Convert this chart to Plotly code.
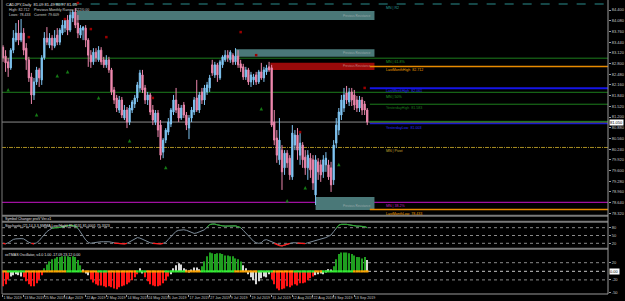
import plotly.graph_objects as go

# ---------------- data ----------------
opens = [83.29, 83.02, 82.85, 82.67, 83.20, 83.50, 83.71, 83.50, 83.71, 83.26,
         82.91, 82.40, 81.86, 82.25, 82.61, 82.31, 82.97, 83.56, 83.35, 83.56,
         83.32, 83.65, 83.44, 83.71, 83.86, 84.10, 83.80, 84.16, 84.34, 84.01,
         83.65, 83.80, 83.86, 83.50, 83.05, 82.85, 83.14, 82.91, 83.20, 82.91,
         82.76, 82.91, 82.61, 82.01, 81.77, 81.41, 81.71, 81.17, 81.41, 81.05,
         81.41, 81.59, 81.77, 82.07, 82.46, 82.07, 81.71, 81.86, 81.41, 81.05,
         81.32, 80.96, 80.15, 80.51, 80.75, 80.99, 81.35, 81.71, 81.47, 81.17,
         81.56, 81.26, 80.87, 81.17, 81.35, 81.77, 81.41, 81.95, 81.71, 81.95,
         82.07, 82.76, 82.46, 82.76, 82.37, 82.76, 82.91, 83.05, 82.91, 83.05,
         82.85, 83.02, 82.79, 82.70, 82.40, 82.61, 82.25, 82.31, 82.46, 82.25,
         82.55, 82.37, 82.55, 82.70, 82.67, 81.05, 80.57, 79.92, 80.21, 79.68,
         80.12, 79.97, 79.41, 80.36, 80.66, 80.06, 80.36, 80.00, 79.68, 79.97,
         79.92, 78.87, 79.86, 79.77, 79.56, 79.77, 79.77, 79.68, 79.32, 80.42,
         80.81, 81.26, 81.47, 81.92, 81.65, 81.95, 81.86, 81.71, 81.47, 81.71,
         81.59, 81.41]
highs = [83.35, 83.20, 82.97, 83.26, 83.80, 84.01, 84.10, 84.13, 83.86, 83.41,
         83.00, 82.52, 82.37, 82.70, 82.67, 83.05, 83.74, 83.89, 83.71, 83.65,
         83.80, 83.86, 83.86, 84.10, 84.16, 84.25, 84.34, 84.40, 84.46, 84.25,
         83.95, 83.92, 83.95, 83.56, 83.20, 83.26, 83.26, 83.32, 83.29, 83.00,
         83.05, 83.00, 82.67, 82.10, 81.86, 81.83, 81.80, 81.56, 81.50, 81.56,
         81.71, 81.86, 82.25, 82.61, 82.61, 82.16, 81.95, 81.92, 81.56, 81.41,
         81.41, 81.11, 80.57, 80.87, 81.17, 81.47, 81.86, 82.07, 81.59, 81.56,
         81.65, 81.35, 81.26, 81.50, 81.80, 82.31, 81.95, 82.07, 82.16, 82.25,
         82.46, 82.91, 82.85, 82.82, 82.91, 83.05, 83.20, 83.20, 83.20, 83.11,
         83.26, 83.20, 82.91, 82.79, 82.70, 82.67, 82.55, 82.49, 82.55, 82.61,
         82.82, 82.70, 82.76, 82.85, 82.76, 81.41, 80.81, 81.17, 80.36, 80.21,
         80.21, 80.06, 80.96, 80.81, 80.87, 80.75, 80.45, 80.21, 80.21, 80.12,
         80.06, 80.06, 79.97, 79.92, 80.06, 80.15, 79.92, 79.86, 80.51, 81.17,
         81.47, 81.86, 82.07, 82.13, 82.07, 82.07, 82.01, 81.83, 81.83, 81.80,
         81.68, 81.47]
lows = [82.85, 82.55, 82.40, 82.61, 83.11, 83.44, 83.35, 83.44, 83.05, 82.61,
        82.25, 81.59, 81.71, 82.16, 82.10, 82.16, 82.91, 83.35, 83.26, 83.20,
        83.26, 83.35, 83.35, 83.65, 83.74, 83.65, 83.74, 84.04, 83.86, 83.56,
        83.56, 83.50, 83.29, 82.70, 82.67, 82.76, 82.85, 82.85, 82.76, 82.67,
        82.67, 82.52, 81.86, 81.59, 81.35, 81.32, 81.17, 81.11, 80.87, 80.96,
        81.32, 81.47, 81.65, 81.95, 81.92, 81.59, 81.56, 81.26, 80.96, 80.96,
        80.60, 79.92, 79.97, 80.42, 80.66, 80.90, 81.26, 81.32, 81.05, 81.11,
        81.17, 80.81, 80.54, 81.05, 81.26, 81.35, 81.32, 81.59, 81.56, 81.86,
        81.95, 82.43, 82.37, 82.25, 82.31, 82.67, 82.85, 82.85, 82.82, 82.76,
        82.76, 82.67, 82.55, 82.31, 82.31, 82.16, 82.10, 82.16, 82.16, 82.19,
        82.31, 82.25, 82.46, 82.55, 80.90, 80.36, 79.83, 79.77, 79.02, 79.47,
        79.68, 79.32, 79.32, 80.21, 79.92, 79.77, 79.68, 79.47, 79.32, 79.38,
        79.02, 78.57, 79.32, 79.26, 79.38, 79.56, 79.32, 78.96, 79.17, 80.27,
        80.66, 81.11, 81.35, 81.59, 81.53, 81.53, 81.41, 81.35, 81.35, 81.26,
        81.26, 80.96]
closes = [82.97, 82.82, 82.67, 83.20, 83.56, 83.71, 83.50, 83.71, 83.20, 82.91,
          82.37, 81.86, 82.25, 82.61, 82.37, 82.97, 83.56, 83.44, 83.56, 83.35,
          83.56, 83.44, 83.80, 83.95, 84.10, 83.80, 84.25, 84.34, 83.95, 83.71,
          83.86, 83.89, 83.50, 83.05, 82.85, 83.14, 82.97, 83.20, 82.85, 82.76,
          82.91, 82.61, 81.95, 81.71, 81.47, 81.71, 81.26, 81.41, 81.05, 81.47,
          81.65, 81.77, 82.16, 82.52, 82.01, 81.71, 81.86, 81.35, 81.11, 81.32,
          80.81, 80.06, 80.51, 80.81, 81.05, 81.41, 81.71, 81.41, 81.17, 81.47,
          81.26, 80.96, 81.17, 81.41, 81.71, 81.41, 81.86, 81.71, 82.07, 82.16,
          82.37, 82.52, 82.76, 82.46, 82.85, 83.00, 83.05, 82.97, 83.14, 82.85,
          83.02, 82.76, 82.67, 82.40, 82.61, 82.25, 82.46, 82.40, 82.25, 82.55,
          82.37, 82.61, 82.67, 82.61, 80.96, 80.51, 80.06, 80.51, 79.56, 80.12,
          79.83, 79.47, 80.72, 80.66, 80.21, 80.42, 79.92, 79.68, 80.06, 79.62,
          79.23, 79.92, 79.56, 79.47, 79.92, 79.97, 79.41, 79.17, 80.36, 80.96,
          81.35, 81.71, 81.86, 81.71, 81.95, 81.71, 81.56, 81.47, 81.71, 81.41,
          81.41, 81.05]

stoch_main = [20, 18, 22, 28, 35, 37, 38, 38, 37, 30,
              24, 20, 18, 22, 30, 42, 55, 65, 72, 78,
              80, 80, 81, 84, 86, 88, 89, 88, 86, 78,
              62, 45, 33, 24, 20, 22, 24, 25, 26, 26,
              27, 26, 24, 21, 20, 19, 18, 18, 20, 26,
              32, 38, 42, 40, 35, 30, 26, 22, 20, 19,
              18, 18, 20, 24, 35, 46, 58, 66, 70, 72,
              72, 70, 67, 62, 58, 60, 64, 68, 72, 82,
              92, 94, 94, 91, 88, 87, 86, 86, 87, 88,
              87, 84, 80, 70, 60, 48, 36, 28, 22, 20,
              22, 32, 34, 30, 25, 20, 15, 11, 10, 13,
              17, 20, 22, 22, 21, 20, 19, 19, 22, 25,
              28, 30, 32, 35, 38, 42, 47, 52, 65, 78,
              90, 93, 94, 93, 91, 89, 87, 86, 86, 86,
              84, 80]

osc_hist = [-35, -30, -19, -12, -9, -7, -9, -12, -14, -23,
            -30, -35, -35, -28, -19, -9, 7, 16, 23, 28,
            30, 33, 33, 35, 35, 35, 33, 35, 33, 26,
            14, 2, -5, -9, -19, -26, -30, -33, -33, -35,
            -37, -35, -37, -40, -42, -37, -35, -33, -30, -26,
            -21, -14, -7, 7, -5, -14, -23, -30, -33, -35,
            -35, -33, -28, -21, -12, -7, 7, 14, 19, 16,
            7, 2, -2, 2, 9, 9, 5, 12, 23, 35,
            44, 42, 40, 42, 42, 40, 37, 37, 35, 35,
            30, 28, 23, 14, 7, -7, -14, -21, -30, -23,
            -16, -12, -14, -7, -19, -30, -40, -44, -42, -40,
            -35, -37, -33, -30, -33, -28, -28, -26, -21, -16,
            -12, -9, -7, -5, -7, -2, 5, 2, 12, 28,
            40, 44, 44, 44, 42, 40, 37, 33, 33, 30,
            33, 26]
# 1 = bullish, -1 = bearish, 0 = neutral
osc_state = [-1, -1, -1, 0, 0, 0, 0, 0, -1, -1,
             -1, -1, -1, -1, -1, -1, 1, 1, 1, 1,
             1, 1, 1, 1, 1, 1, 1, 1, 1, 1,
             1, 0, 0, 0, -1, -1, -1, -1, -1, -1,
             -1, -1, -1, -1, -1, -1, -1, -1, -1, -1,
             -1, -1, -1, 0, 0, -1, -1, -1, -1, -1,
             -1, -1, -1, -1, -1, 0, 0, 0, 0, 0,
             0, 0, 0, 0, 0, 0, 0, 1, 1, 1,
             1, 1, 1, 1, 1, 1, 1, 1, 1, 1,
             1, 1, 1, 0, 0, 0, 0, 0, 0, 0,
             0, 0, 0, 0, -1, -1, -1, -1, -1, -1,
             -1, -1, -1, -1, -1, -1, -1, -1, -1, -1,
             -1, 0, 0, 0, 0, 0, 0, 0, 1, 1,
             1, 1, 1, 1, 1, 1, 1, 1, 1, 1,
             1, 0]
# 1 = rising signal, 0 = falling signal
signal_state = [0, 0, 1, 1, 1, 1, 1, 1, 1, 0,
                0, 0, 0, 0, 0, 0, 0, 0, 0, 0,
                0, 0, 0, 0, 0, 1, 1, 1, 1, 1,
                1, 0, 0, 0, 0, 0, 0, 1, 1, 1,
                1, 0, 0, 0, 0, 0, 0, 0, 0, 0,
                0, 0, 1, 1, 1, 1, 0, 0, 0, 0,
                0, 0, 0, 1, 1, 1, 1, 1, 1, 1,
                1, 0, 0, 0, 0, 0, 0, 1, 1, 1,
                1, 1, 1, 1, 1, 1, 1, 1, 1, 1,
                0, 0, 0, 0, 0, 0, 0, 0, 0, 1,
                1, 1, 1, 1, 1, 0, 0, 0, 0, 0,
                0, 0, 0, 1, 1, 1, 1, 1, 1, 1,
                1, 0, 0, 0, 1, 1, 1, 1, 1, 1,
                1, 1, 1, 1, 1, 1, 0, 0, 0, 0,
                0, 0]

date_label_bars = [0, 8, 16, 24, 32, 40, 48, 56, 64, 72, 80, 88, 96, 104, 112, 120, 128, 136]
date_labels = ["1 Mar 2019", "13 Mar 2019", "25 Mar 2019", "4 Apr 2019", "22 Apr 2019",
               "2 May 2019", "14 May 2019", "24 May 2019", "5 Jun 2019", "17 Jun 2019",
               "27 Jun 2019", "9 Jul 2019", "19 Jul 2019", "31 Jul 2019", "12 Aug 2019",
               "22 Aug 2019", "3 Sep 2019", "13 Sep 2019"]

price_ticks = [84.400, 84.080, 83.760, 83.440, 83.120, 82.800, 82.480, 82.160, 81.840, 81.520,
               81.200, 80.880, 80.560, 80.240, 79.920, 79.600, 79.280, 78.960, 78.640, 78.320]
stoch_ticks = [80, 50, 20]
osc_ticks = [20, -20, -50]

signal_up_bars = [2, 13, 21, 25, 37, 49, 63, 100, 110, 117, 130]
signal_up_prices = [82.07, 81.32, 82.49, 82.61, 81.83, 80.54, 79.74, 81.50, 78.75, 79.14, 79.83]
signal_dn_bars = [10, 24, 29, 34, 40, 58, 92, 98, 115, 140]
signal_dn_prices = [83.59, 84.13, 84.61, 83.83, 83.59, 81.77, 83.74, 83.05, 80.75, 82.07]

# levels
mn_r2 = 84.58
mn_upper = 82.96
last_month_high = 82.712
last_week_high = 82.061
mn_mid = 81.94
yesterday_high = 81.583
current_price = 81.05
yesterday_low = 81.003
mn_pivot = 80.29
mn_lower = 78.65
last_month_low = 78.433

# zones: start bar, top, bottom
zones = [(28.5, 84.37, 84.10), (90, 83.23, 83.00), (121, 78.81, 78.42)]
red_zone = (103.5, 82.82, 82.61)

# --------------- layout helpers ---------------
W, H = 625, 301
ML, MR, MT, MB = 2, 13, 0, 7
PW = W - ML - MR
PH = H - MT - MB


def px(x):
    return (x - ML) / PW


def py(y):
    return (PH + MT - y) / PH


XR = [-0.385, 234.2]
ZONE_END = 143.8
LINE_START = 142
FONT = "Liberation Sans, Arial, sans-serif"

n = len(closes)
bars = list(range(n))

fig = go.Figure()

fig.add_trace(go.Candlestick(
    x=bars, open=opens, high=highs, low=lows, close=closes,
    increasing=dict(line=dict(color="#7fc4f2", width=1), fillcolor="#87cefa"),
    decreasing=dict(line=dict(color="#ec87ad", width=1), fillcolor="#f58fb4"),
    whiskerwidth=0, xaxis="x", yaxis="y", hoverinfo="skip", showlegend=False))

fig.add_trace(go.Scatter(
    x=signal_up_bars, y=signal_up_prices, mode="markers",
    marker=dict(symbol="arrow-up", size=3.5, color="#157a15"),
    xaxis="x", yaxis="y", hoverinfo="skip", showlegend=False))
fig.add_trace(go.Scatter(
    x=signal_dn_bars, y=signal_dn_prices, mode="markers",
    marker=dict(symbol="square", size=2.5, color="#9a0000"),
    xaxis="x", yaxis="y", hoverinfo="skip", showlegend=False))

# stochastic
fig.add_trace(go.Scatter(x=bars, y=stoch_main, mode="lines",
                         line=dict(color="#7d8c9a", width=1),
                         xaxis="x2", yaxis="y2", hoverinfo="skip", showlegend=False))
hi_seg = [v if v >= 78 else None for v in stoch_main]
lo_seg = [v if v <= 21 else None for v in stoch_main]
fig.add_trace(go.Scatter(x=bars, y=hi_seg, mode="lines", connectgaps=False,
                         line=dict(color="#22b022", width=1),
                         xaxis="x2", yaxis="y2", hoverinfo="skip", showlegend=False))
fig.add_trace(go.Scatter(x=bars, y=lo_seg, mode="lines", connectgaps=False,
                         line=dict(color="#ff1a1a", width=1.3),
                         xaxis="x2", yaxis="y2", hoverinfo="skip", showlegend=False))

# oscillator
state_col = {1: "#1f9e1f", -1: "#ff1414", 0: "#d8d8d8"}
fig.add_trace(go.Bar(x=bars, y=osc_hist, width=0.45,
                     marker=dict(color=[state_col[s] for s in osc_state], line=dict(width=0)),
                     xaxis="x3", yaxis="y3", hoverinfo="skip", showlegend=False))
sig_col = {1: "#33ee33", 0: "#ffa500"}
fig.add_trace(go.Bar(x=bars, y=[4.6] * n, base=-2.3, width=1.0,
                     marker=dict(color=[sig_col[s] for s in signal_state], line=dict(width=0)),
                     xaxis="x3", yaxis="y3", hoverinfo="skip", showlegend=False))

shapes = []
# zones
for (x0, top, bot) in zones:
    shapes.append(dict(type="rect", xref="x", yref="y", x0=x0, x1=ZONE_END, y0=bot, y1=top,
                       fillcolor="#4a7878", line=dict(width=0), layer="below"))
shapes.append(dict(type="rect", xref="x", yref="y", x0=red_zone[0], x1=ZONE_END,
                   y0=red_zone[2], y1=red_zone[1], fillcolor="#9a0a0a", line=dict(width=0), layer="below"))


def hline(y, color, width=1, dash="solid", x0=None, yref="y"):
    if x0 is None:
        return dict(type="line", xref="paper", yref=yref, x0=0, x1=1, y0=y, y1=y,
                    line=dict(color=color, width=width, dash=dash), layer="below")
    return dict(type="line", xref="x", yref=yref, x0=x0, x1=XR[1], y0=y, y1=y,
                line=dict(color=color, width=width, dash=dash), layer="below")


shapes += [
    hline(mn_r2, "#2a8c8c", 1.2, "dash", x0=20),
    hline(mn_upper, "#1d7d1d", 1),
    hline(last_month_high, "#e88a00", 1.5, x0=LINE_START),
    hline(last_week_high, "#1414e6", 2, x0=LINE_START),
    hline(mn_mid, "#1d7d1d", 1),
    hline(yesterday_high, "#1d7d1d", 1, x0=LINE_START),
    hline(current_price, "#8a8a8a", 1),
    hline(current_price + 0.02, "#1d7d1d", 1, x0=LINE_START),
    hline(yesterday_low, "#1a1ad0", 1.3, x0=LINE_START),
    hline(mn_pivot, "#a88e22", 1, "4px,1px,1px,1px"),
    hline(mn_lower, "#a010a0", 1.2),
    hline(last_month_low, "#e88a00", 1.5, x0=LINE_START),
]
# indicator levels
for v in stoch_ticks:
    shapes.append(hline(v, "#8a8a8a", 1, "dot", yref="y2"))
for v in [20, -20]:
    shapes.append(hline(v, "#8a8a8a", 1, "dot", yref="y3"))
shapes.append(hline(0, "#c8c8c8", 1, "dot", yref="y3"))

# pane separators and borders
for yimg in [215.7, 221.7, 248.8]:
    shapes.append(dict(type="line", xref="paper", yref="paper", x0=0, x1=1,
                       y0=py(yimg), y1=py(yimg), line=dict(color="#7a7a7a", width=2)))
shapes.append(dict(type="line", xref="paper", yref="paper", x0=1, x1=1, y0=0, y1=1,
                   line=dict(color="#9a9a9a", width=1)))
shapes.append(dict(type="line", xref="paper", yref="paper", x0=0, x1=1, y0=0, y1=0,
                   line=dict(color="#9a9a9a", width=1)))
shapes.append(dict(type="line", xref="paper", yref="paper", x0=0, x1=0, y0=0, y1=1,
                   line=dict(color="#7a7a7a", width=1)))

ann = []


def txt(x, y, s, color="#d0d0d0", size=4, xref="paper", yref="paper", yanchor="middle", **kw):
    d = dict(x=x, y=y, xref=xref, yref=yref, text=s, showarrow=False, xanchor="left",
             yanchor=yanchor, font=dict(family=FONT, size=size, color=color))
    d.update(kw)
    return d


ann += [
    txt(px(4), py(4.5), "CADJPY,Daily  81.09 81.49 80.97 81.05", "#e0e0e0", 4),
    txt(px(7), py(9.8), "High: 82.712", "#d0d0d0", 3.6),
    txt(px(32), py(9.8), "Previous Monthly Range: 422/0.00", "#d0d0d0", 3.6),
    txt(px(7), py(14.6), "Lows: 78.433", "#d0d0d0", 3.6),
    txt(px(32), py(14.6), "Current: 79.609", "#d0d0d0", 3.6),
    txt(px(3), py(218.8), "Symbol Changer proV Ver.x1", "#e0e0e0", 3.6),
    txt(px(3), py(225.8), "Stochastic (21,14,3,3,SMMA,Low/High) 85.3531 81.0001 75.3323", "#e0e0e0", 3.6),
    txt(px(3), py(254.5), "xxTMAS Oscillator, v4.0 1.00 -17.09 23.12 0.00", "#e0e0e0", 3.6),
]

lab_x = px(387)
LS = 3.6
ann += [
    txt(lab_x, mn_r2, "MN | R2", "#2a9c9c", LS, yref="y", yanchor="top"),
    txt(lab_x, mn_upper, "MN | 61.8%", "#249a24", LS, yref="y", yanchor="top"),
    txt(lab_x, last_month_high, "LastMonthHigh  82.712", "#f0a000", LS, yref="y", yanchor="top"),
    txt(lab_x, last_week_high, "LastWeekHigh  82.061", "#2a2aff", LS, yref="y", yanchor="top", yshift=1),
    txt(lab_x, mn_mid, "MN | 50%", "#249a24", LS, yref="y", yanchor="top", yshift=-1),
    txt(lab_x, yesterday_high, "YesterdayHigh  81.583", "#1d7d1d", LS, yref="y", yanchor="top"),
    txt(lab_x, yesterday_low, "YesterdayLow  81.003", "#2a2aff", LS, yref="y", yanchor="top"),
    txt(lab_x, mn_pivot, "MN | Pivot", "#c8a830", LS, yref="y", yanchor="top"),
    txt(lab_x, mn_lower, "MN | 38.2%", "#c020c0", LS, yref="y", yanchor="top"),
    txt(lab_x, last_month_low, "LastMonthLow  78.433", "#f0a000", LS, yref="y", yanchor="top"),
]
for (x0, top, bot) in zones:
    ann.append(dict(x=ZONE_END - 0.5, y=bot, xref="x", yref="y", text="Previous Resistance",
                    showarrow=False, xanchor="right", yanchor="bottom",
                    font=dict(family=FONT, size=3, color="#9aaaaa")))
ann.append(dict(x=ZONE_END - 0.5, y=red_zone[2], xref="x", yref="y", text="Previous Resistance",
                showarrow=False, xanchor="right", yanchor="bottom",
                font=dict(family=FONT, size=3, color="#c08080")))
ann.append(dict(x=1, y=current_price, xref="paper", yref="y", text="81.050", showarrow=False,
                xanchor="left", xshift=1, font=dict(family=FONT, size=4, color="#000000"),
                bgcolor="#ffffff", borderpad=0))
ann.append(dict(x=1, y=0, xref="paper", yref="y3", text="0.00", showarrow=False,
                xanchor="left", xshift=1, font=dict(family=FONT, size=4, color="#000000"),
                bgcolor="#ffffff", borderpad=0))

yax_common = dict(side="right", showgrid=False, zeroline=False, showline=False,
                  ticks="outside", ticklen=2, tickcolor="#9a9a9a",
                  tickfont=dict(family=FONT, size=4, color="#c8c8c8"), fixedrange=True)
xax_common = dict(range=XR, showgrid=False, zeroline=False, showline=False, fixedrange=True)

fig.update_layout(
    width=W, height=H, margin=dict(l=ML, r=MR, t=MT, b=MB),
    paper_bgcolor="#000000", plot_bgcolor="#000000",
    barmode="overlay", showlegend=False, hovermode=False,
    xaxis=dict(**xax_common, domain=[0, 1], anchor="y", showticklabels=False,
               rangeslider=dict(visible=False)),
    xaxis2=dict(**xax_common, domain=[0, 1], anchor="y2", showticklabels=False),
    xaxis3=dict(**xax_common, domain=[0, 1], anchor="y3",
                tickvals=date_label_bars, ticktext=date_labels, ticks="outside", ticklen=2,
                tickcolor="#9a9a9a", ticklabelposition="outside right", tickangle=0,
                tickfont=dict(family=FONT, size=3.6, color="#c8c8c8")),
    yaxis=dict(**yax_common, domain=[py(215), 1], range=[78.27, 84.70], anchor="x",
               tickvals=price_ticks, ticktext=["%.3f" % v for v in price_ticks]),
    yaxis2=dict(**yax_common, domain=[py(248.5), py(222.5)], range=[0, 100], anchor="x2",
                tickvals=stoch_ticks, ticktext=[str(v) for v in stoch_ticks]),
    yaxis3=dict(**yax_common, domain=[0, py(249.5)], range=[-52.8, 50.7], anchor="x3",
                tickvals=osc_ticks, ticktext=[str(v) for v in osc_ticks]),
    shapes=shapes, annotations=ann,
)

fig.write_html("out.html", config={"displayModeBar": False})
